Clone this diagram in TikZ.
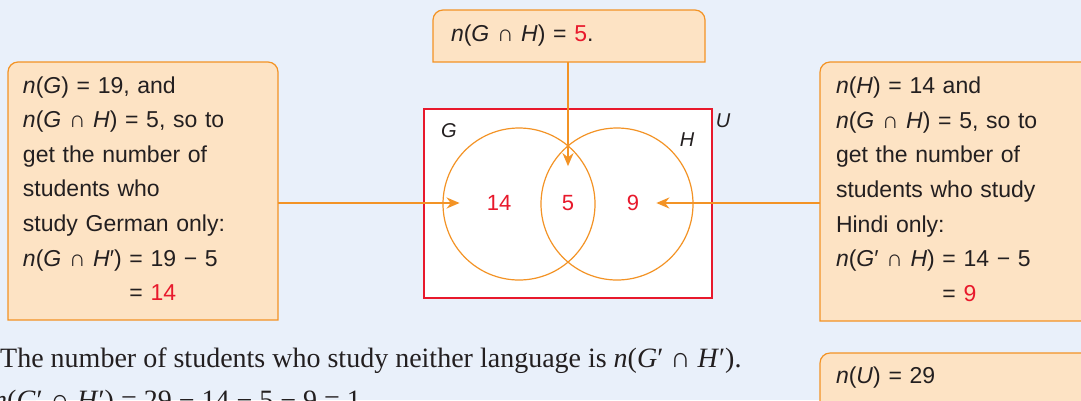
\documentclass[tikz,border=0pt]{standalone}
\usepackage{fontspec}
\setmainfont{Liberation Sans}
\newfontfamily\bodyserif{Liberation Serif}
\usetikzlibrary{arrows.meta,positioning}
\definecolor{PageBlue}{HTML}{E9F0FA}
\definecolor{BoxFill}{HTML}{FDE3C4}
\definecolor{Orange}{HTML}{F39325}
\definecolor{Red}{HTML}{E8192C}
\definecolor{Ink}{HTML}{231F20}
\pgfdeclarelayer{bg}
\pgfdeclarelayer{boxes}
\pgfsetlayers{bg,boxes,main}

\newcommand{\iv}[1]{\textit{#1}}
\newcommand{\rd}[1]{\textcolor{Red}{#1}}

\tikzset{
  callout/.style={anchor=north west, inner ysep=0pt, outer sep=0pt, align=left,
    text=Ink, font=\fontsize{23}{34.6}\selectfont},
  calloutline/.style={fill=BoxFill, draw=Orange, line width=1.2pt},
  pointer/.style={draw=Orange, line width=2pt, -{Stealth[length=13pt,width=11pt]}},
  ring/.style={circle, draw=Orange, line width=1.2pt, minimum size=152pt, inner sep=0pt},
  setname/.style={inner sep=0pt, font=\fontsize{20}{24}\selectfont\itshape, text=Ink},
  count/.style={inner sep=0pt, font=\fontsize{22}{26}\selectfont, text=Red},
  prose/.style={anchor=base west, inner sep=0pt, text=Ink,
    font=\bodyserif\fontsize{28}{32}\selectfont},
}

% rounded top corners, square bottom
\newcommand{\calloutshape}[1]{%
  \begin{pgfonlayer}{boxes}
    \filldraw[calloutline] (#1.south west) -- ([yshift=-10pt]#1.north west)
      arc[start angle=180, end angle=90, radius=10pt] -- ([xshift=-10pt]#1.north east)
      arc[start angle=90, end angle=0, radius=10pt] -- (#1.south east) -- cycle;
  \end{pgfonlayer}}

\begin{document}
\begin{tikzpicture}[x=1pt, y=1pt]

  \useasboundingbox (0,0) rectangle (1081,-400);
  \begin{pgfonlayer}{bg}
    \fill[PageBlue] (0,0) rectangle (1081,-400);
  \end{pgfonlayer}

  % Venn diagram
  \draw[draw=Red, fill=white, line width=1.2pt] (424,-109) rectangle (712,-298);
  \node[ring] (G) at (519,-204) {};
  \node[ring] (H) at (617,-204) {};
  \node[setname] (labG) at (449,-131) {G};
  \node[setname] (labH) at (687,-140) {H};
  \node[setname] (labU) at (723,-121) {U};
  \node[count] (n14) at (499,-203) {14};
  \node[count] (n5) at (568,-203) {5};
  \node[count] (n9) at (633,-203) {9};

  % Callouts
  \node[callout, text width=240pt, inner xsep=15pt, minimum height=258pt] (left) at (8,-62) {%
    \iv{n}(\iv{G}) = 19, and\\
    \iv{n}(\iv{G} ∩ \iv{H}) = 5, so to\\
    get the number of\\
    students who\\
    study German only:\\
    \iv{n}(\iv{G} ∩ \iv{H}′) = 19 − 5\\
    \phantom{\iv{n}(\iv{G} ∩ \iv{H}′) }= \rd{14}};
  \calloutshape{left}

  \node[callout, text width=236pt, inner xsep=18pt, minimum height=52pt] (top) at (433,-10)
    {\iv{n}(\iv{G} ∩ \iv{H}) = \rd{5}.};
  \calloutshape{top}

  \node[callout, text width=270pt, inner xsep=16pt, minimum height=259pt] (right) at (820,-62) {%
    \iv{n}(\iv{H}) = 14 and\\
    \iv{n}(\iv{G} ∩ \iv{H}) = 5, so to\\
    get the number of\\
    students who study\\
    Hindi only:\\
    \iv{n}(\iv{G}′ ∩ \iv{H}) = 14 − 5\\
    \phantom{\iv{n}(\iv{G}′ ∩ \iv{H}) }= \rd{9}};
  \calloutshape{right}

  \node[callout, text width=270pt, inner xsep=16pt, minimum height=50pt] (univ) at (820,-353)
    {\iv{n}(\iv{U}) = 29};
  \calloutshape{univ}

  % Pointers
  \draw[pointer, shorten >=27pt] (left.east |- n14) -- (n14.west);
  \draw[pointer, shorten >=17pt] (right.west |- n9) -- (n9.east);
  \draw[pointer, shorten >=29pt] (n5 |- top.south) -- (n5.north);

  % Text below
  \node[prose] (neither) at (0,-367)
    {The number of students who study neither language is \iv{n}(\iv{G}′ ∩ \iv{H}′).};
  \node[prose] (result) at (-7,-409)
    {\iv{n}(\iv{G}′ ∩ \iv{H}′) = 29 − 14 − 5 − 9 = 1};

\end{tikzpicture}
\end{document}
